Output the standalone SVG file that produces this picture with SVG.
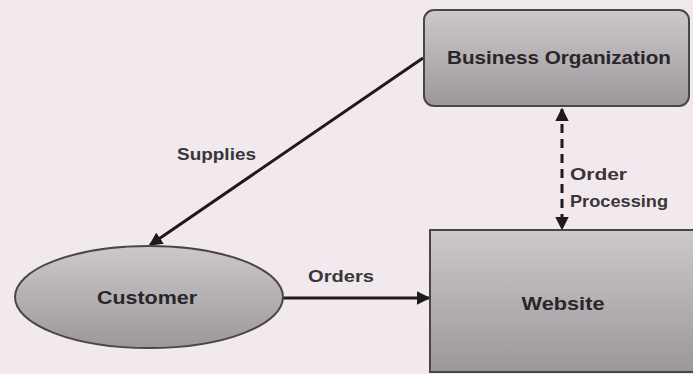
<svg xmlns="http://www.w3.org/2000/svg" width="693" height="374" viewBox="0 0 693 374">
  <style>
    .node { stroke: #4a4648; stroke-width: 2; fill: url(#grey); }
    .label { font-family: "Liberation Sans", "Noto Sans", sans-serif; font-size: 17px; font-weight: bold; fill: #3a3638; }
    .title { font-family: "Liberation Sans", "Noto Sans", sans-serif; font-size: 18px; font-weight: bold; fill: #2a2628; text-anchor: middle; }
    .edge { stroke: #1e1a1c; stroke-width: 3; fill: none; }
    .dash { stroke: #1e1a1c; stroke-width: 3; fill: none; stroke-dasharray: 9 6; }
  </style>
  <defs>
    <linearGradient id="grey" x1="0" y1="0" x2="0" y2="1">
      <stop offset="0" stop-color="#cdc8cb"/>
      <stop offset="1" stop-color="#9c979a"/>
    </linearGradient>
    <marker id="head" viewBox="0 0 10 10" refX="9" refY="5" markerWidth="4.5" markerHeight="4.5" orient="auto-start-reverse" markerUnits="strokeWidth">
      <path d="M0,0 L10,5 L0,10 Z" fill="#1e1a1c"/>
    </marker>
  </defs>

  <rect width="693" height="374" fill="#f1e9ed"/>

  <!-- connectors -->
  <g id="connectors">
    <line class="edge" x1="423" y1="58" x2="150" y2="245" marker-end="url(#head)"/>
    <line class="edge" x1="283" y1="298" x2="429" y2="298" marker-end="url(#head)"/>
    <line class="dash" x1="562" y1="109" x2="562" y2="229" marker-start="url(#head)" marker-end="url(#head)"/>
    <text class="label" x="177" y="160" textLength="79" lengthAdjust="spacingAndGlyphs">Supplies</text>
    <text class="label" x="308" y="282" textLength="66" lengthAdjust="spacingAndGlyphs">Orders</text>
    <text class="label" x="570" y="180" textLength="57" lengthAdjust="spacingAndGlyphs">Order</text>
    <text class="label" x="570" y="207" textLength="98" lengthAdjust="spacingAndGlyphs">Processing</text>
  </g>

  <g id="business-organization">
    <rect class="node" x="424" y="10" width="265" height="96" rx="10"/>
    <text class="title" x="559" y="64" textLength="224" lengthAdjust="spacingAndGlyphs">Business Organization</text>
  </g>

  <g id="website">
    <rect class="node" x="430" y="230" width="270" height="142"/>
    <text class="title" x="563" y="310" textLength="83" lengthAdjust="spacingAndGlyphs">Website</text>
  </g>

  <g id="customer">
    <ellipse class="node" cx="149" cy="297" rx="134" ry="51"/>
    <text class="title" x="147" y="304" textLength="100" lengthAdjust="spacingAndGlyphs">Customer</text>
  </g>
</svg>
